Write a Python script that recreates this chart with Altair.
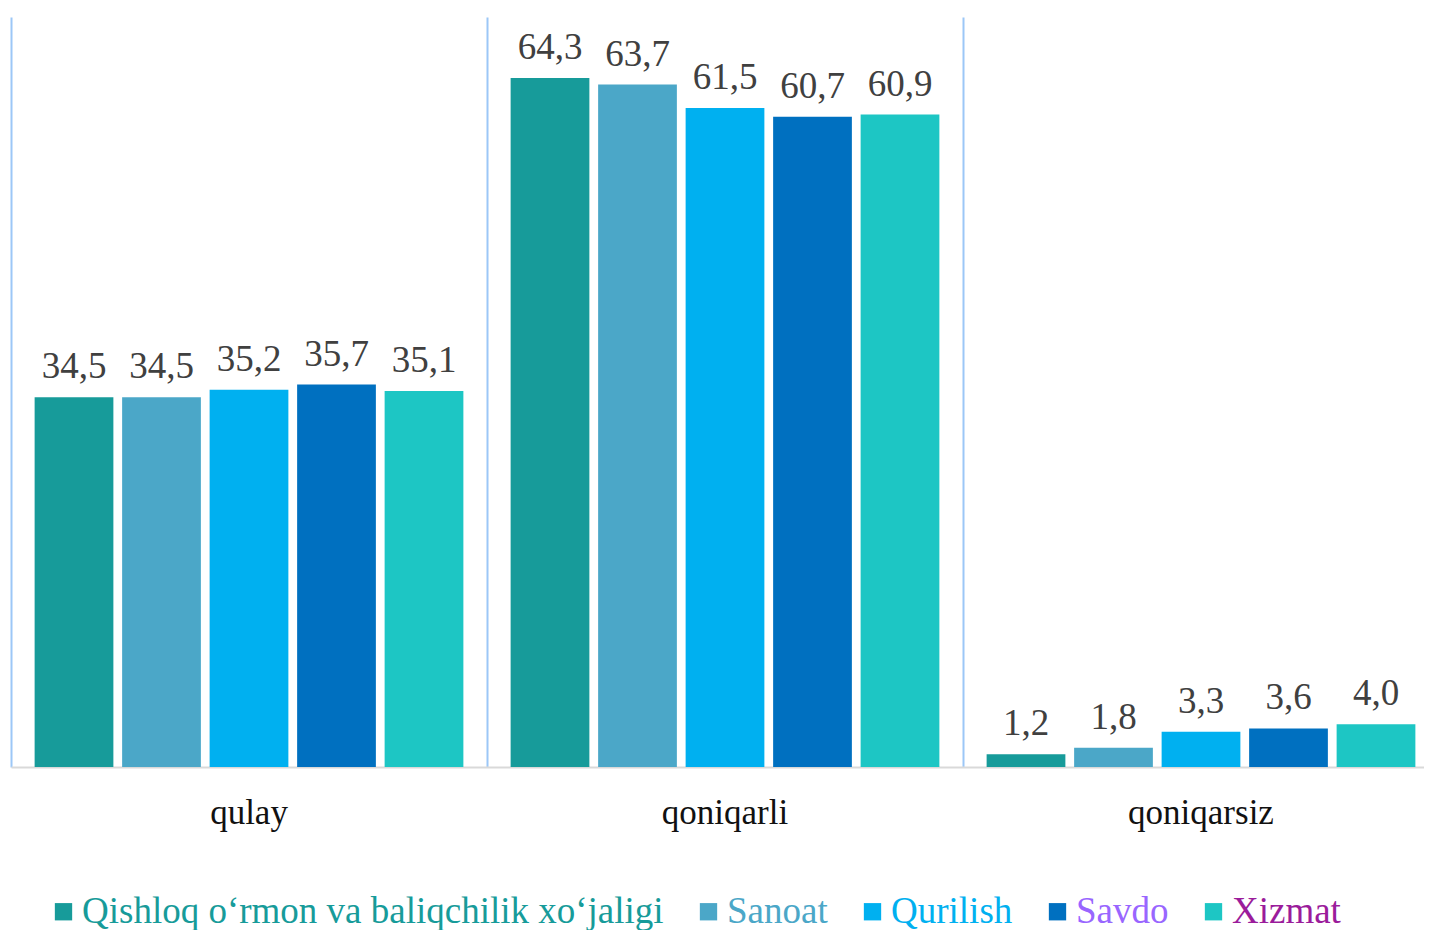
import altair as alt
import pandas as pd

categories = ["qulay", "qoniqarli", "qoniqarsiz"]
series = ["Qishloq o‘rmon va baliqchilik xo‘jaligi", "Sanoat", "Qurilish", "Savdo", "Xizmat"]
qulay = [34.5, 34.5, 35.2, 35.7, 35.1]
qoniqarli = [64.3, 63.7, 61.5, 60.7, 60.9]
qoniqarsiz = [1.2, 1.8, 3.3, 3.6, 4.0]
bar_colors = ["#179B9A", "#4BA7C8", "#00B0F0", "#0070C0", "#1DC6C4"]
legend_text_colors = ["#179B9A", "#4BA7C8", "#00B0F0", "#9966FF", "#9B1C9B"]

rows = []
for cat, vals in zip(categories, [qulay, qoniqarli, qoniqarsiz]):
    for s, v in zip(series, vals):
        rows.append({"category": cat, "series": s, "value": v,
                     "label": f"{v:.1f}".replace(".", ",")})
df = pd.DataFrame(rows)
cat_df = pd.DataFrame({"category": categories})

FONT = "Liberation Serif"

label_color_expr = ""
for s, c in zip(series[:-1], legend_text_colors[:-1]):
    label_color_expr += f"datum.label === '{s}' ? '{c}' : "
label_color_expr += f"'{legend_text_colors[-1]}'"

x_enc = alt.X(
    "category:N", sort=categories,
    scale=alt.Scale(paddingInner=0, paddingOuter=0, range=[0, 1428]),
    axis=alt.Axis(title=None, labels=False, ticks=False, grid=True,
                  bandPosition=0, gridColor="#9CC7F7", gridWidth=2,
                  domainColor="#D9D9D9", domainWidth=2),
)
xo_enc = alt.XOffset("series:N", sort=series,
                     scale=alt.Scale(paddingInner=0.1, paddingOuter=0.27))
y_enc = alt.Y("value:Q", scale=alt.Scale(domain=[0, 70]), axis=None)

bars = alt.Chart(df).mark_bar().encode(
    x=x_enc, xOffset=xo_enc, y=y_enc,
    color=alt.Color(
        "series:N", sort=series,
        scale=alt.Scale(domain=series, range=bar_colors),
        legend=alt.Legend(
            title=None, orient="none", legendX=34, legendY=876, padding=0,
            direction="horizontal", symbolType="square", symbolSize=300,
            symbolStrokeWidth=0, labelFont=FONT, labelFontSize=37,
            labelOffset=0, columnPadding=26, labelLimit=2000,
            labelColor=alt.ExprRef(label_color_expr),
        ),
    ),
)

texts = alt.Chart(df).mark_text(
    font=FONT, fontSize=37, color="#404040", baseline="alphabetic", dy=-19
).encode(x=x_enc, xOffset=xo_enc, y=y_enc, text="label:N")

cat_labels = alt.Chart(cat_df).mark_text(
    font=FONT, fontSize=35, color="#111111", baseline="middle", dy=46
).encode(x=x_enc, y=alt.Y(datum=0), text="category:N")

chart = alt.layer(bars, texts, cat_labels).properties(
    width=1413, height=750,
    autosize=alt.AutoSizeParams(type="none"),
    padding={"left": 3, "top": 9, "right": 0, "bottom": 163},
).configure_view(stroke=None)

chart.save("out.html", embed_options={"renderer": "svg", "actions": False})
